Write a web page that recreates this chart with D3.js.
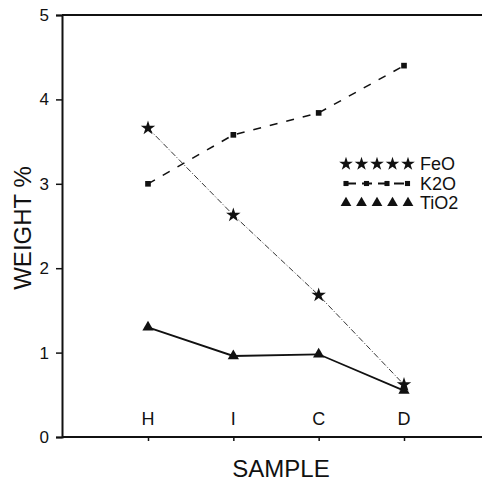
<!DOCTYPE html>
<html>
<head>
<meta charset="utf-8">
<script src="https://cdn.jsdelivr.net/npm/d3@7"></script>
<style>
  body { margin: 0; background: #fff; }
  text { font-family: "Liberation Sans", sans-serif; fill: #111; }
</style>
</head>
<body>
<div id="chart-container"></div>
<script>
const samples = ["H", "I", "C", "D"];
const feo = [3.66, 2.63, 1.68, 0.62];
const k2o = [3.00, 3.58, 3.84, 4.40];
const tio2 = [1.30, 0.96, 0.98, 0.55];
const yTicks = [0, 1, 2, 3, 4, 5];

const margin = { top: 15, right: 2, bottom: 45, left: 62 };
const width = 484 - margin.left - margin.right;
const height = 482 - margin.top - margin.bottom;

const svg = d3.select("#chart-container")
  .append("svg")
  .attr("width", 484)
  .attr("height", 482)
  .append("g")
  .attr("transform", `translate(${margin.left},${margin.top})`);

// sample positions along the bottom
const x = d3.scalePoint()
  .domain(samples)
  .range([86, 342]);

const y = d3.scaleLinear()
  .domain([0, 5])
  .range([height, 0]);

// top border
svg.append("line").attr("x1", 0).attr("x2", width).attr("y1", 0).attr("y2", 0)
  .attr("stroke", "#111").attr("stroke-width", 2);

const yAxis = svg.append("g")
  .call(d3.axisLeft(y).tickValues(yTicks).tickSize(6).tickPadding(7).tickFormat(d3.format("d")));
yAxis.select(".domain").attr("stroke", "#111").attr("stroke-width", 2);
yAxis.selectAll(".tick line").attr("stroke", "#111").attr("stroke-width", 1.5);
yAxis.selectAll(".tick text").style("font-size", "17px").style("font-family", "Liberation Sans, sans-serif");

const xAxis = svg.append("g")
  .attr("transform", `translate(0,${height})`)
  .call(d3.axisBottom(x).tickSize(4).tickFormat(""));
xAxis.select(".domain").attr("d", `M0,0H${width}`).attr("stroke", "#111").attr("stroke-width", 2);
xAxis.selectAll(".tick line").attr("stroke", "#111").attr("stroke-width", 1.5);

// category labels inside the plot
svg.selectAll(".cat")
  .data(samples)
  .enter().append("text")
  .attr("class", "cat")
  .attr("x", d => x(d))
  .attr("y", height - 12)
  .attr("text-anchor", "middle")
  .style("font-size", "18px")
  .text(d => d);

const line = d3.line()
  .x((d, i) => x(samples[i]))
  .y(d => y(d));

// FeO
svg.append("path").datum(feo)
  .attr("d", line).attr("fill", "none")
  .attr("stroke", "#333").attr("stroke-width", 1)
  .attr("stroke-dasharray", "6,2,1,2");
// K2O
svg.append("path").datum(k2o)
  .attr("d", line).attr("fill", "none")
  .attr("stroke", "#111").attr("stroke-width", 1.5)
  .attr("stroke-dasharray", "8,9");
// TiO2
svg.append("path").datum(tio2)
  .attr("d", line).attr("fill", "none")
  .attr("stroke", "#111").attr("stroke-width", 1.8);

const star = d3.symbol().type(d3.symbolStar);
const tri = d3.symbol().type(d3.symbolTriangle);
const sq = d3.symbol().type(d3.symbolSquare);

svg.selectAll(".feo").data(feo).enter().append("path")
  .attr("transform", (d, i) => `translate(${x(samples[i])},${y(d)})`)
  .attr("d", star.size(65)()).attr("fill", "#111");
svg.selectAll(".k2o").data(k2o).enter().append("path")
  .attr("transform", (d, i) => `translate(${x(samples[i])},${y(d)})`)
  .attr("d", sq.size(32)()).attr("fill", "#111");
svg.selectAll(".tio2").data(tio2).enter().append("path")
  .attr("transform", (d, i) => `translate(${x(samples[i])},${y(d)})`)
  .attr("d", tri.size(55)()).attr("fill", "#111");

// legend
const legend = [
  { name: "FeO", sym: "star", n: 5 },
  { name: "K2O", sym: "sq", n: 4 },
  { name: "TiO2", sym: "tri", n: 5 }
];
const lg = svg.append("g").attr("transform", "translate(284,149)");
legend.forEach((l, r) => {
  const g = lg.append("g").attr("transform", `translate(0,${r * 19.5})`);
  if (l.sym === "sq") {
    g.append("line").attr("x1", 0).attr("x2", 62).attr("y1", 0).attr("y2", 0)
      .attr("stroke", "#111").attr("stroke-width", 2).attr("stroke-dasharray", "10,6");
  }
  d3.range(l.n).forEach(k => {
    const cx = l.n === 4 ? k * 20.5 : k * 15.5;
    const s = l.sym === "star" ? star.size(58)() : l.sym === "sq" ? sq.size(26)() : tri.size(50)();
    g.append("path").attr("transform", `translate(${cx},0)`).attr("d", s).attr("fill", "#111");
  });
  g.append("text").attr("x", 74).attr("y", 6).style("font-size", "18px").text(l.name);
});

// axis titles
svg.append("text")
  .attr("x", 219)
  .attr("y", height + 40)
  .attr("text-anchor", "middle")
  .style("font-size", "24px")
  .text("SAMPLE");

svg.append("text")
  .attr("transform", "rotate(-90)")
  .attr("x", -213)
  .attr("y", -31)
  .attr("text-anchor", "middle")
  .style("font-size", "24px")
  .text("WEIGHT %");
</script>
</body>
</html>
